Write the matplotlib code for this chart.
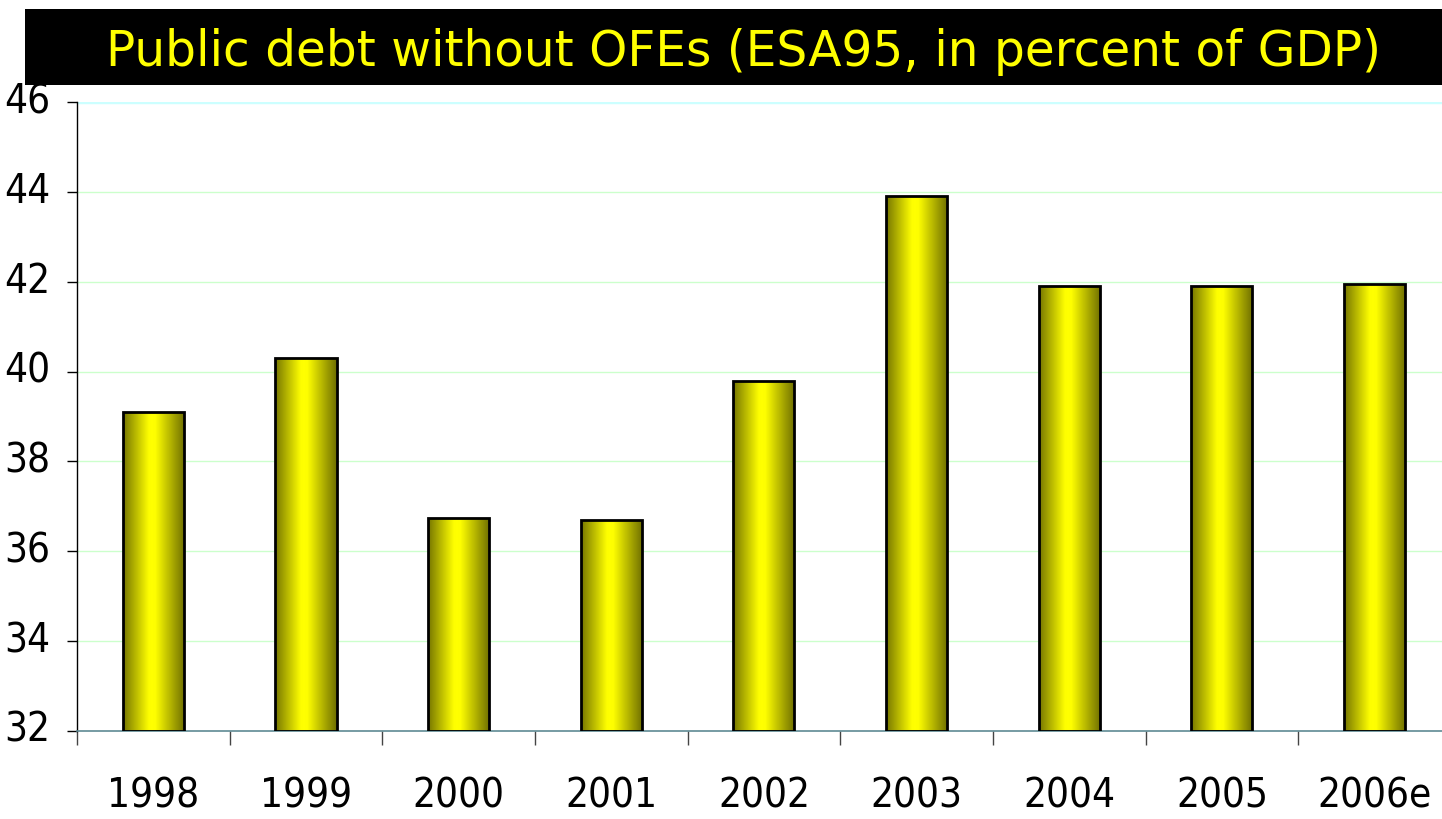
import matplotlib
matplotlib.use("Agg")
import matplotlib.pyplot as plt
import numpy as np
from matplotlib.colors import LinearSegmentedColormap
from matplotlib.patches import Rectangle

years = ["1998", "1999", "2000", "2001", "2002", "2003", "2004", "2005", "2006e"]
debt = [39.1, 40.3, 36.75, 36.7, 39.8, 43.9, 41.9, 41.9, 41.95]
yticks = [32, 34, 36, 38, 40, 42, 44, 46]
title = "Public debt without OFEs (ESA95, in percent of GDP)"

W, H = 1442, 819
fig = plt.figure(figsize=(W / 100, H / 100), dpi=100)
fig.patch.set_facecolor("white")

# title band
fig.patches.append(Rectangle((25 / W, 1 - 85 / H), (W - 25) / W, 76 / H,
                             transform=fig.transFigure, facecolor="black",
                             edgecolor="none", zorder=0))
fig.text((107 + 1380) / 2 / W, 1 - 52 / H, title, color="#ffff00",
         fontsize=35, family="DejaVu Sans", ha="center", va="center")

left, right, top, bottom = 77, 77 + 9 * 152.65, 102, 731
ax = fig.add_axes([left / W, 1 - bottom / H, (right - left) / W, (bottom - top) / H])
ax.set_xlim(0, len(years))
ax.set_ylim(32, 46)

cmap = LinearSegmentedColormap.from_list(
    "olive", [(0, "#767600"), (0.42, "#ffff00"), (0.52, "#ffff00"), (1, "#6e6e00")])
grad = np.linspace(0, 1, 256).reshape(1, -1)

x = np.arange(len(years)) + 0.5
bars = ax.bar(x, np.array(debt) - 32, bottom=32, width=0.4, facecolor="none",
              edgecolor="black", linewidth=2, zorder=3)
for b in bars:
    x0, y0 = b.get_x(), b.get_y()
    im = ax.imshow(grad, cmap=cmap, aspect="auto",
                   extent=(x0, x0 + b.get_width(), y0, y0 + b.get_height()),
                   zorder=2, interpolation="bicubic")
    im.set_clip_path(b)
ax.set_xlim(0, len(years))
ax.set_ylim(32, 46)

for yv in yticks[1:-1]:
    ax.axhline(yv, color="#ccffcc", linewidth=1, zorder=1)

for s in ["top", "right"]:
    ax.spines[s].set_visible(False)
ax.axhline(46, color="#ccffff", linewidth=2.5, zorder=1)
ax.spines["left"].set_color("black")
ax.spines["left"].set_linewidth(1)
ax.spines["bottom"].set_color("#5f8a94")
ax.spines["bottom"].set_linewidth(1.2)

ax.set_yticks(yticks)
ax.set_yticklabels([str(v) for v in yticks], fontsize=29, family="DejaVu Sans",
                   fontstretch="condensed")
ax.tick_params(axis="y", length=7.2, width=1, color="black", pad=12)
for t in ax.get_yticklabels():
    t.set_verticalalignment("center")

ax.set_xticks(np.arange(len(years) + 1))
ax.set_xticklabels([])
ax.tick_params(axis="x", which="major", length=10, width=1, color="#444444", direction="out")
ax.set_xticks(x, minor=True)
ax.set_xticklabels(years, minor=True, fontsize=29, family="DejaVu Sans",
                   fontstretch="condensed")
ax.tick_params(axis="x", which="minor", length=0, pad=32.5)

fig.savefig("out.png", dpi=100)
